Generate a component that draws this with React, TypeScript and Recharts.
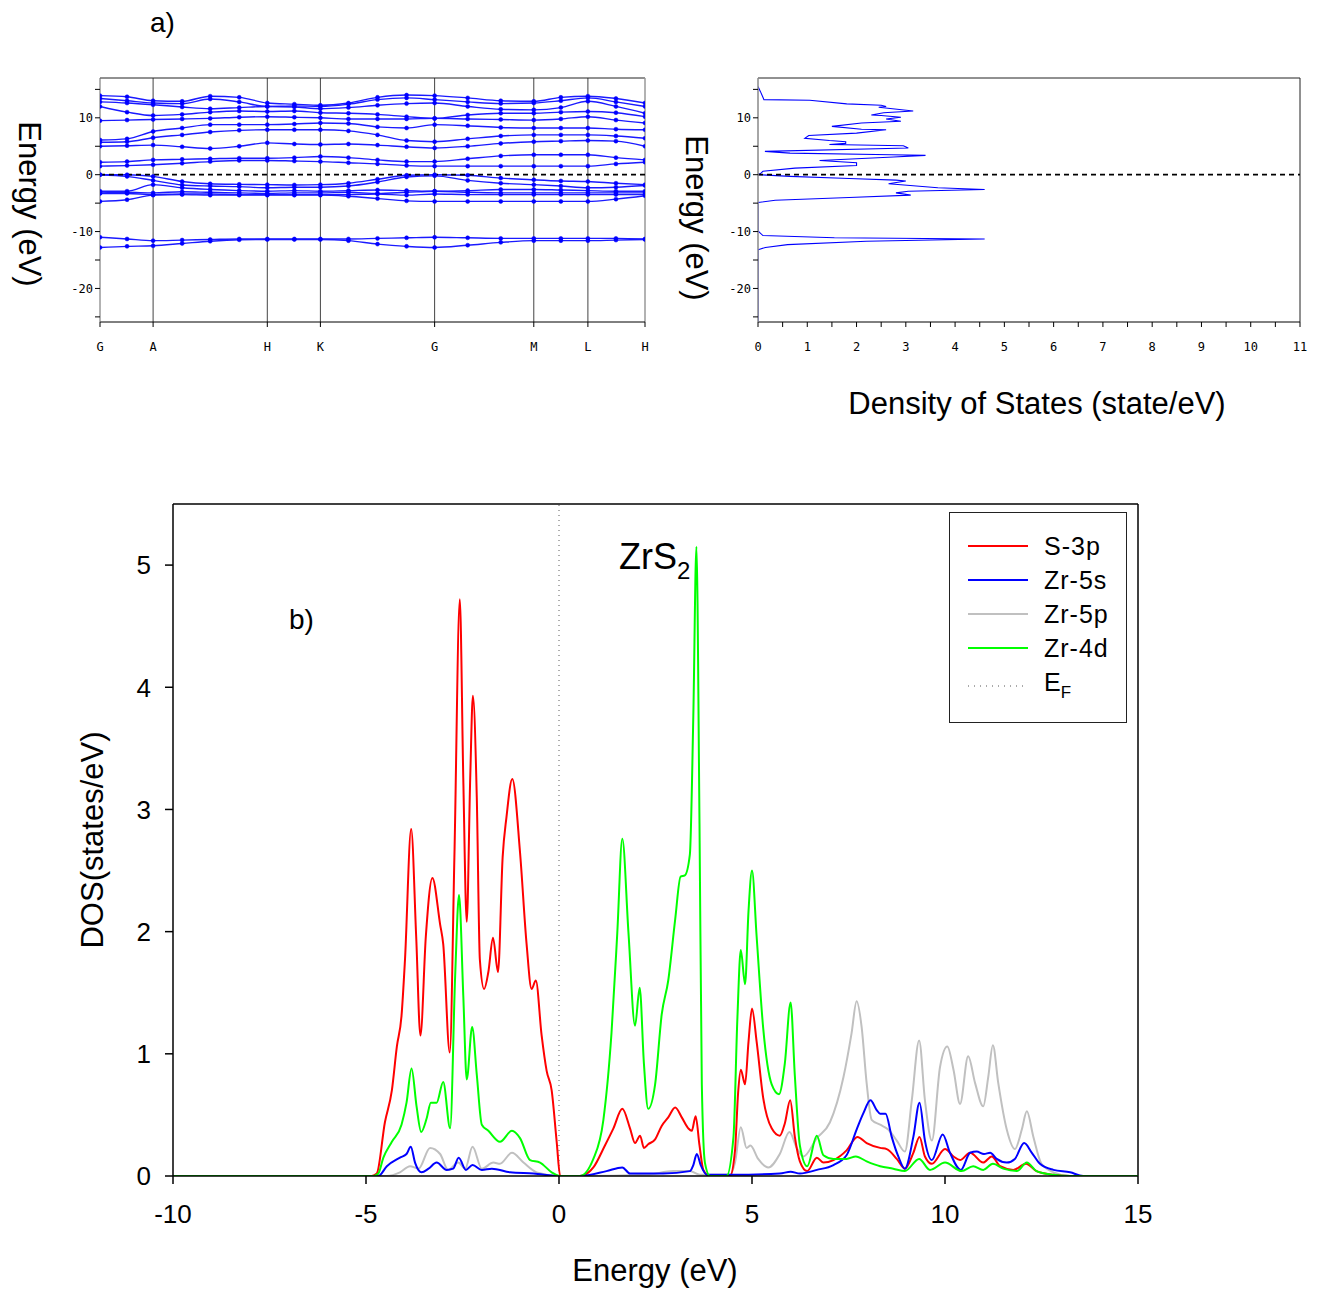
import React from 'react';
import { LineChart, Line, XAxis, YAxis, ReferenceLine, Legend } from 'recharts';

// ---------- Panel a) band structure ----------
const kPath = [0, 27, 53, 82, 110, 139, 167, 194, 220, 248, 277, 306, 334, 367, 400, 433, 460, 487, 515, 544];
const kTickPos = [0, 53, 167, 220, 334, 433, 487, 544];
const kTickLabels = ['G', 'A', 'H', 'K', 'G', 'M', 'L', 'H'];
const kSymLines = [53, 167, 220, 334, 433, 487];

const bandD1 = [-11.0, -11.3, -11.6, -11.5, -11.4, -11.3, -11.3, -11.3, -11.3, -11.3, -11.2, -11.1, -11.0, -11.1, -11.2, -11.2, -11.2, -11.2, -11.2, -11.3];
const bandD2 = [-12.8, -12.6, -12.5, -12.1, -11.7, -11.45, -11.4, -11.4, -11.4, -11.6, -12.2, -12.6, -12.8, -12.4, -11.9, -11.6, -11.6, -11.6, -11.5, -11.4];
const bandV6 = [-4.7, -4.4, -3.6, -3.5, -3.6, -3.6, -3.6, -3.6, -3.6, -3.8, -4.2, -4.6, -4.7, -4.7, -4.7, -4.7, -4.7, -4.7, -4.3, -3.7];
const bandV5 = [-3.3, -3.3, -3.5, -3.4, -3.4, -3.5, -3.5, -3.5, -3.5, -3.5, -3.4, -3.6, -3.4, -3.5, -3.5, -3.5, -3.5, -3.5, -3.5, -3.5];
const bandV4 = [-3.2, -3.1, -3.2, -3.0, -3.1, -3.2, -3.3, -3.2, -3.2, -3.1, -3.3, -3.1, -2.9, -3.1, -3.2, -3.2, -3.2, -3.2, -3.2, -3.2];
const bandV3 = [-2.9, -2.9, -1.75, -2.3, -2.6, -2.8, -2.9, -2.8, -2.9, -2.8, -2.7, -2.8, -2.9, -2.8, -2.6, -2.6, -2.7, -2.8, -2.9, -2.9];
const bandV2 = [0, -0.3, -1.0, -1.8, -2.0, -2.1, -2.3, -2.2, -2.2, -2.0, -1.3, -0.4, -0.2, -1.0, -1.5, -1.75, -2.0, -2.3, -2.2, -1.9];
const bandV1 = [0, 0, -0.3, -1.2, -1.6, -1.7, -1.75, -1.8, -1.75, -1.5, -0.8, -0.1, 0, -0.1, -0.6, -0.9, -1.1, -1.2, -1.5, -1.75];
const bandC1 = [1.5, 1.6, 1.75, 2.0, 2.3, 2.5, 2.5, 2.4, 2.3, 2.1, 1.9, 1.6, 1.5, 1.5, 1.5, 1.5, 1.5, 1.5, 1.9, 2.2];
const bandC2 = [2.2, 2.3, 2.6, 2.7, 2.8, 2.9, 2.9, 3.0, 3.2, 3.0, 2.6, 2.3, 2.3, 2.8, 3.3, 3.5, 3.5, 3.5, 3.0, 2.6];
const bandC3 = [5.0, 5.1, 5.2, 4.9, 4.6, 5.0, 5.6, 5.4, 5.3, 5.4, 5.2, 4.9, 4.7, 5.0, 5.5, 5.8, 5.9, 6.0, 5.9, 5.0];
const bandC4 = [5.7, 5.8, 6.5, 7.0, 7.5, 7.8, 7.9, 7.9, 7.9, 7.7, 7.0, 6.0, 5.8, 6.3, 6.8, 7.0, 7.0, 7.0, 6.8, 6.4];
const bandC5 = [6.1, 6.3, 7.6, 8.2, 8.8, 8.8, 8.8, 8.9, 9.1, 9.0, 8.4, 8.2, 8.8, 8.6, 8.3, 8.2, 8.2, 8.2, 8.0, 7.9];
const bandC6 = [9.5, 9.6, 9.7, 9.8, 9.9, 10.1, 10.2, 10.1, 10.0, 9.8, 9.8, 9.8, 9.9, 9.8, 9.7, 9.6, 9.8, 10.2, 9.6, 9.1];
const bandC7 = [12.0, 11.0, 10.4, 10.6, 11.0, 11.2, 11.1, 11.2, 10.9, 10.8, 10.6, 10.2, 9.9, 10.5, 10.8, 10.8, 11.0, 11.1, 10.9, 10.2];
const bandC8 = [12.8, 12.6, 12.3, 11.9, 11.6, 11.8, 12.0, 11.9, 11.6, 11.8, 12.2, 12.5, 12.6, 12.0, 11.5, 11.4, 11.8, 12.9, 12.0, 10.8];
const bandC9 = [13.4, 13.0, 12.6, 12.5, 13.3, 12.8, 12.0, 12.1, 12.0, 12.4, 13.2, 13.5, 13.2, 12.8, 12.5, 12.6, 13.0, 13.5, 12.8, 12.0];
const bandC10 = [13.9, 13.7, 13.0, 12.9, 13.8, 13.6, 12.6, 12.4, 12.2, 12.6, 13.6, 14.0, 13.9, 13.5, 13.0, 12.9, 13.6, 13.8, 13.4, 12.6];
const bandList = [bandD1, bandD2, bandV6, bandV5, bandV4, bandV3, bandV2, bandV1, bandC1, bandC2, bandC3, bandC4, bandC5, bandC6, bandC7, bandC8, bandC9, bandC10];

const energyTicks = [15, 10, 5, 0, -5, -10, -15, -20, -25];
const energyDomain: [number, number] = [-25.9, 17];

// ---------- Panel a) total DOS ----------
const dosCurve: [number, number][] = [
  [15.5, 0], [14.6, 0.05], [13.6, 0.1], [13.2, 0.12], [13.1, 1.05], [12.45, 1.8], [12.2, 2.5], [12.0, 2.6],
  [11.85, 2.45], [11.2, 3.15], [10.9, 2.55], [10.5, 2.3], [10.4, 2.5], [10.1, 2.9], [9.8, 2.6], [9.4, 2.9],
  [9.1, 2.1], [8.5, 1.5], [8.0, 2.1], [7.9, 2.6], [7.3, 2.0], [6.9, 1.03], [6.4, 0.95], [6.0, 1.45],
  [5.8, 1.78], [5.5, 1.78], [5.3, 1.45], [5.1, 2.95], [4.7, 3.05], [4.1, 0.14], [3.8, 0.65], [3.5, 2.7],
  [3.4, 3.4], [3.1, 2.75], [2.5, 1.25], [2.1, 2.0], [1.6, 2.0], [1.15, 0.75], [0.6, 0.1], [0.2, 0.05],
  [0, 0], [-0.3, 0.65], [-0.67, 1.85], [-0.96, 2.8], [-1.1, 3.0], [-1.6, 2.65], [-2.3, 3.65], [-2.6, 4.6],
  [-2.9, 3.05], [-3.2, 2.8], [-3.6, 3.1], [-4.0, 1.85], [-4.5, 0.35], [-4.9, 0], [-9.9, 0], [-10.7, 0.1],
  [-11.1, 1.55], [-11.3, 4.6], [-11.7, 2.2], [-12.3, 0.6], [-12.8, 0.15], [-13.2, 0], [-25.9, 0],
];
const dosTicks = [0, 0.5, 1, 1.5, 2, 2.5, 3, 3.5, 4, 4.5, 5, 5.5, 6, 6.5, 7, 7.5, 8, 8.5, 9, 9.5, 10, 10.5, 11];

// ---------- Panel b) partial DOS ----------
const pdosS3p: [number, number][] = [
  [-10, 0], [-4.85, 0], [-4.72, 0.02], [-4.51, 0.44], [-4.33, 0.7], [-4.2, 1.06], [-4.08, 1.31], [-3.99, 1.77],
  [-3.83, 2.84], [-3.7, 1.96], [-3.59, 1.15], [-3.45, 1.96], [-3.28, 2.44], [-3.08, 2.06], [-3.0, 1.9],
  [-2.83, 1.01], [-2.71, 2.61], [-2.57, 4.72], [-2.48, 3.26], [-2.39, 2.08], [-2.3, 3.26], [-2.23, 3.93],
  [-2.13, 3.1], [-2.05, 1.77], [-1.94, 1.53], [-1.83, 1.67], [-1.71, 1.95], [-1.58, 1.67], [-1.46, 2.61],
  [-1.36, 2.94], [-1.21, 3.25], [-1.01, 2.65], [-0.84, 1.9], [-0.71, 1.53], [-0.6, 1.6], [-0.45, 1.15],
  [-0.32, 0.86], [-0.19, 0.7], [-0.06, 0.28], [0.03, 0], [0.54, 0], [0.89, 0.07], [1.19, 0.25], [1.41, 0.39],
  [1.64, 0.55], [1.84, 0.39], [1.97, 0.27], [2.1, 0.33], [2.2, 0.23], [2.31, 0.26], [2.49, 0.3], [2.66, 0.41],
  [2.83, 0.48], [3.01, 0.56], [3.18, 0.48], [3.35, 0.39], [3.44, 0.37], [3.54, 0.49], [3.64, 0.25], [3.74, 0.05],
  [3.91, 0], [4.43, 0], [4.56, 0.21], [4.64, 0.68], [4.71, 0.87], [4.82, 0.75], [4.91, 1.1], [5.0, 1.37],
  [5.12, 1.1], [5.29, 0.64], [5.51, 0.39], [5.72, 0.33], [5.85, 0.43], [5.99, 0.62], [6.11, 0.32], [6.24, 0.12],
  [6.43, 0.04], [6.68, 0.15], [6.85, 0.11], [7.11, 0.13], [7.45, 0.21], [7.73, 0.32], [7.97, 0.27], [8.32, 0.23],
  [8.49, 0.22], [8.75, 0.14], [8.96, 0.06], [9.18, 0.19], [9.34, 0.32], [9.48, 0.16], [9.66, 0.1], [10.0, 0.22],
  [10.22, 0.16], [10.39, 0.13], [10.65, 0.19], [10.99, 0.11], [11.21, 0.16], [11.43, 0.08], [11.77, 0.05],
  [12.1, 0.1], [12.37, 0.04], [12.81, 0.01], [13.24, 0], [15, 0],
];
const pdosZr5s: [number, number][] = [
  [-10, 0], [-4.68, 0], [-4.46, 0.08], [-4.12, 0.15], [-3.95, 0.18], [-3.84, 0.24], [-3.73, 0.11], [-3.56, 0.03],
  [-3.38, 0.06], [-3.17, 0.11], [-2.91, 0.05], [-2.74, 0.06], [-2.6, 0.15], [-2.41, 0.05], [-2.24, 0.09],
  [-2.0, 0.05], [-1.74, 0.06], [-1.27, 0.03], [-0.66, 0.02], [0.03, 0], [0.54, 0], [1.23, 0.04], [1.64, 0.07],
  [1.84, 0.02], [2.7, 0.02], [3.39, 0.04], [3.48, 0.09], [3.57, 0.18], [3.67, 0.09], [3.83, 0.01], [4.52, 0.01],
  [5.72, 0.02], [6.0, 0.035], [6.24, 0.02], [6.68, 0.05], [7.11, 0.09], [7.45, 0.17], [7.71, 0.38], [7.88, 0.51],
  [8.07, 0.62], [8.23, 0.54], [8.32, 0.51], [8.46, 0.51], [8.62, 0.32], [8.79, 0.16], [8.96, 0.06], [9.18, 0.32],
  [9.34, 0.6], [9.48, 0.29], [9.66, 0.13], [9.94, 0.34], [10.13, 0.19], [10.41, 0.05], [10.65, 0.19],
  [10.82, 0.2], [11.01, 0.18], [11.17, 0.19], [11.34, 0.14], [11.6, 0.11], [11.81, 0.14], [12.05, 0.27],
  [12.25, 0.19], [12.46, 0.1], [12.81, 0.05], [13.24, 0.03], [13.58, 0], [15, 0],
];
const pdosZr5p: [number, number][] = [
  [-10, 0], [-4.46, 0], [-4.12, 0.03], [-3.86, 0.08], [-3.64, 0.06], [-3.34, 0.23], [-3.08, 0.18], [-2.87, 0.05],
  [-2.61, 0.11], [-2.43, 0.06], [-2.24, 0.24], [-2.0, 0.06], [-1.7, 0.11], [-1.53, 0.1], [-1.22, 0.19],
  [-0.92, 0.11], [-0.58, 0.03], [0.03, 0], [0.54, 0], [2.27, 0.01], [2.96, 0.04], [3.39, 0.04], [3.65, 0.01],
  [4.43, 0.01], [4.56, 0.11], [4.71, 0.4], [4.86, 0.23], [4.96, 0.25], [5.16, 0.14], [5.42, 0.07], [5.72, 0.18],
  [5.97, 0.36], [6.16, 0.23], [6.33, 0.16], [6.68, 0.31], [7.02, 0.44], [7.37, 0.81], [7.58, 1.17], [7.71, 1.43],
  [7.84, 1.22], [7.97, 0.76], [8.1, 0.46], [8.32, 0.42], [8.53, 0.38], [8.75, 0.29], [8.96, 0.2], [9.14, 0.62],
  [9.33, 1.11], [9.48, 0.62], [9.66, 0.29], [9.87, 0.89], [10.06, 1.06], [10.22, 0.87], [10.39, 0.59],
  [10.6, 0.98], [10.78, 0.76], [10.99, 0.57], [11.12, 0.81], [11.24, 1.07], [11.38, 0.76], [11.6, 0.38],
  [11.81, 0.22], [11.99, 0.38], [12.12, 0.53], [12.29, 0.32], [12.5, 0.1], [12.81, 0.03], [13.24, 0], [15, 0],
];
const pdosZr4d: [number, number][] = [
  [-10, 0], [-4.8, 0], [-4.68, 0.02], [-4.55, 0.15], [-4.33, 0.28], [-4.08, 0.42], [-3.95, 0.6], [-3.82, 0.88],
  [-3.69, 0.57], [-3.57, 0.36], [-3.43, 0.47], [-3.32, 0.6], [-3.17, 0.6], [-3.0, 0.77], [-2.82, 0.39],
  [-2.69, 1.64], [-2.59, 2.3], [-2.48, 1.48], [-2.39, 0.79], [-2.25, 1.22], [-2.13, 0.83], [-2.0, 0.42],
  [-1.83, 0.37], [-1.53, 0.28], [-1.22, 0.37], [-1.01, 0.31], [-0.75, 0.13], [-0.49, 0.11], [-0.19, 0.03],
  [0.03, 0], [0.54, 0], [0.89, 0.14], [1.15, 0.46], [1.36, 1.17], [1.51, 1.99], [1.64, 2.76], [1.8, 1.99],
  [1.97, 1.23], [2.09, 1.54], [2.2, 0.92], [2.31, 0.55], [2.49, 0.75], [2.66, 1.32], [2.83, 1.6], [3.01, 2.1],
  [3.15, 2.45], [3.26, 2.46], [3.39, 2.63], [3.48, 3.77], [3.56, 5.15], [3.64, 2.88], [3.7, 0.75], [3.78, 0.11],
  [3.91, 0], [4.34, 0], [4.52, 0.32], [4.62, 1.28], [4.71, 1.85], [4.82, 1.57], [4.91, 2.17], [5.0, 2.5],
  [5.12, 1.96], [5.29, 1.21], [5.51, 0.75], [5.7, 0.67], [5.85, 0.92], [6.0, 1.42], [6.11, 0.82], [6.24, 0.25],
  [6.43, 0.08], [6.68, 0.33], [6.85, 0.17], [7.11, 0.14], [7.45, 0.14], [7.69, 0.16], [7.97, 0.12], [8.32, 0.08],
  [8.66, 0.06], [8.96, 0.04], [9.33, 0.14], [9.61, 0.05], [10.0, 0.11], [10.43, 0.04], [10.73, 0.08],
  [10.99, 0.05], [11.24, 0.1], [11.51, 0.06], [11.86, 0.04], [12.12, 0.11], [12.37, 0.04], [12.81, 0.01],
  [13.24, 0], [15, 0],
];
const pdosNames = ['S-3p', 'Zr-5s', 'Zr-5p', 'Zr-4d'];
const pdosColors = ['#ff0000', '#0000ff', '#c0c0c0', '#00ff00'];
const pdosSeries = [pdosS3p, pdosZr5s, pdosZr5p, pdosZr4d];
const pdosDrawOrder = [2, 0, 1, 3];
const pdosXTicks = [-10, -5, 0, 5, 10, 15];
const pdosYTicks = [0, 1, 2, 3, 4, 5];

const SANS = "'Liberation Sans', Arial, sans-serif";
const MONO = "'DejaVu Sans Mono', monospace";

const energyFmt = (v: number) => (v % 10 === 0 ? String(v) : '');
const kFmt = (v: number) => {
  const i = kTickPos.indexOf(v);
  return i >= 0 ? kTickLabels[i] : '';
};
const dosFmt = (v: number) => (Number.isInteger(v) ? String(v) : '');

const PdosLegend = () => (
  <svg width={178} height={211} style={{ display: 'block' }}>
    <rect x={0.5} y={0.5} width={177} height={210} fill="#fff" stroke="#222" strokeWidth={1} />
    {pdosNames.map((n, i) => (
      <g key={n}>
        <line x1={19} x2={79} y1={34 + 34 * i} y2={34 + 34 * i} stroke={pdosColors[i]} strokeWidth={2} />
        <text x={95} y={34 + 34 * i + 9} fontSize={25} letterSpacing={1} fontFamily={SANS} fill="#000">
          {n}
        </text>
      </g>
    ))}
    <line x1={19} x2={79} y1={174} y2={174} stroke="#555" strokeWidth={1} strokeDasharray="1 5" />
    <text x={95} y={179} fontSize={25} fontFamily={SANS} fill="#000">
      E<tspan fontSize={17} dy={7}>F</tspan>
    </text>
  </svg>
);

export default function App() {
  const bandData = bandList.map((b) => kPath.map((k, i) => ({ k, e: b[i] })));
  const dosData = dosCurve.map(([e, d]) => ({ e, d }));
  const pdosData = pdosSeries.map((s) => s.map(([e, v]) => ({ e, v })));

  return (
    <div style={{ position: 'absolute', left: 0, top: 0, width: 1320, height: 1289, background: '#fff' }}>
      {/* band structure */}
      <div style={{ position: 'absolute', left: 0, top: 0 }}>
        <LineChart width={660} height={370} margin={{ top: 78, right: 15, bottom: 18, left: 60 }}>
          <XAxis
            type="number"
            dataKey="k"
            domain={[0, 544]}
            ticks={kTickPos}
            interval={0}
            tickFormatter={kFmt}
            tickSize={5}
            tickMargin={15}
            height={30}
            axisLine={{ stroke: '#000' }}
            tickLine={{ stroke: '#000' }}
            tick={{ fontSize: 12, fontFamily: MONO, fill: '#000' }}
            allowDataOverflow
          />
          <YAxis
            type="number"
            domain={energyDomain}
            ticks={energyTicks}
            interval={0}
            tickFormatter={energyFmt}
            width={40}
            tickSize={5}
            tickMargin={2}
            axisLine={{ stroke: '#666' }}
            tickLine={{ stroke: '#000' }}
            tick={{ fontSize: 12, fontFamily: MONO, fill: '#000' }}
            allowDataOverflow
          />
          {kSymLines.map((k) => (
            <ReferenceLine key={'v' + k} x={k} stroke="#444" strokeWidth={1} />
          ))}
          <ReferenceLine y={17} stroke="#222" strokeWidth={1} />
          <ReferenceLine x={544} stroke="#999" strokeWidth={1.5} />
          {bandData.map((d, i) => (
            <Line
              key={'b' + i}
              data={d}
              dataKey="e"
              type="monotone"
              stroke="#1a1aff"
              strokeWidth={1.4}
              dot={{ r: 2, fill: '#0000ff', stroke: '#0000ff', strokeWidth: 0.5 }}
              isAnimationActive={false}
            />
          ))}
          <ReferenceLine y={0} stroke="#000" strokeWidth={1.8} strokeDasharray="5 4" />
        </LineChart>
      </div>

      {/* total DOS */}
      <div style={{ position: 'absolute', left: 680, top: 0 }}>
        <LineChart width={640} height={370} margin={{ top: 78, right: 20, bottom: 18, left: 38 }} data={dosData}>
          <XAxis
            type="number"
            dataKey="d"
            domain={[0, 11]}
            ticks={dosTicks}
            interval={0}
            tickFormatter={dosFmt}
            tickSize={5}
            tickMargin={15}
            height={30}
            axisLine={{ stroke: '#000' }}
            tickLine={{ stroke: '#000' }}
            tick={{ fontSize: 12, fontFamily: MONO, fill: '#000' }}
            allowDataOverflow
          />
          <YAxis
            type="number"
            domain={energyDomain}
            ticks={energyTicks}
            interval={0}
            tickFormatter={energyFmt}
            width={40}
            tickSize={5}
            tickMargin={2}
            axisLine={{ stroke: '#888', strokeWidth: 1.5 }}
            tickLine={{ stroke: '#000' }}
            tick={{ fontSize: 12, fontFamily: MONO, fill: '#000' }}
            allowDataOverflow
          />
          <ReferenceLine y={17} stroke="#222" strokeWidth={1} />
          <ReferenceLine x={11} stroke="#222" strokeWidth={1} />
          <Line dataKey="e" type="linear" stroke="#0000ff" strokeWidth={1.1} dot={false} isAnimationActive={false} />
          <ReferenceLine y={0} stroke="#000" strokeWidth={1.8} strokeDasharray="5 4" />
        </LineChart>
      </div>

      {/* partial DOS */}
      <div style={{ position: 'absolute', left: 0, top: 480 }}>
        <LineChart width={1180} height={809} margin={{ top: 24, right: 42, bottom: 53, left: 113 }}>
          <XAxis
            type="number"
            dataKey="e"
            domain={[-10, 15]}
            ticks={pdosXTicks}
            interval={0}
            tickSize={8}
            tickMargin={21}
            height={60}
            axisLine={{ stroke: '#000', strokeWidth: 1.5 }}
            tickLine={{ stroke: '#000', strokeWidth: 1.5 }}
            tick={{ fontSize: 26, fontFamily: SANS, fill: '#000' }}
            allowDataOverflow
          />
          <YAxis
            type="number"
            domain={[0, 5.5]}
            ticks={pdosYTicks}
            interval={0}
            width={60}
            tickSize={8}
            tickMargin={14}
            axisLine={{ stroke: '#000', strokeWidth: 1.5 }}
            tickLine={{ stroke: '#000', strokeWidth: 1.5 }}
            tick={{ fontSize: 26, fontFamily: SANS, fill: '#000' }}
            allowDataOverflow
          />
          <ReferenceLine y={5.5} stroke="#000" strokeWidth={1.5} />
          <ReferenceLine x={15} stroke="#000" strokeWidth={1.5} />
          <ReferenceLine x={0} stroke="#777" strokeWidth={1.2} strokeDasharray="1 4" />
          {pdosDrawOrder.map((i) => (
            <Line
              key={pdosNames[i]}
              name={pdosNames[i]}
              data={pdosData[i]}
              dataKey="v"
              type="monotone"
              stroke={pdosColors[i]}
              strokeWidth={2}
              dot={false}
              isAnimationActive={false}
            />
          ))}
          <Legend
            layout="horizontal"
            verticalAlign="middle"
            align="center"
            wrapperStyle={{ left: 949, top: 32, width: 178, height: 211 }}
            content={() => <PdosLegend />}
          />
        </LineChart>
      </div>

      {/* titles and annotations */}
      <svg width={1320} height={1289} style={{ position: 'absolute', left: 0, top: 0, pointerEvents: 'none' }}>
        <text x={150} y={32} fontSize={28} fontFamily={SANS} fill="#000">a)</text>
        <text x={19} y={204} fontSize={31} fontFamily={SANS} fill="#000" textAnchor="middle" transform="rotate(90 19 204)">
          Energy (eV)
        </text>
        <text x={686} y={218} fontSize={31} fontFamily={SANS} fill="#000" textAnchor="middle" transform="rotate(90 686 218)">
          Energy (eV)
        </text>
        <text x={1037} y={414} fontSize={31} fontFamily={SANS} fill="#000" textAnchor="middle">
          Density of States (state/eV)
        </text>
        <text x={289} y={629} fontSize={28} fontFamily={SANS} fill="#000">b)</text>
        <text x={619} y={569} fontSize={36} fontFamily={SANS} fill="#000">
          ZrS<tspan fontSize={24} dy={10}>2</tspan>
        </text>
        <text x={655} y={1281} fontSize={31} fontFamily={SANS} fill="#000" textAnchor="middle">
          Energy (eV)
        </text>
        <text x={103} y={840} fontSize={31} fontFamily={SANS} fill="#000" textAnchor="middle" transform="rotate(-90 103 840)">
          DOS(states/eV)
        </text>
      </svg>
    </div>
  );
}
